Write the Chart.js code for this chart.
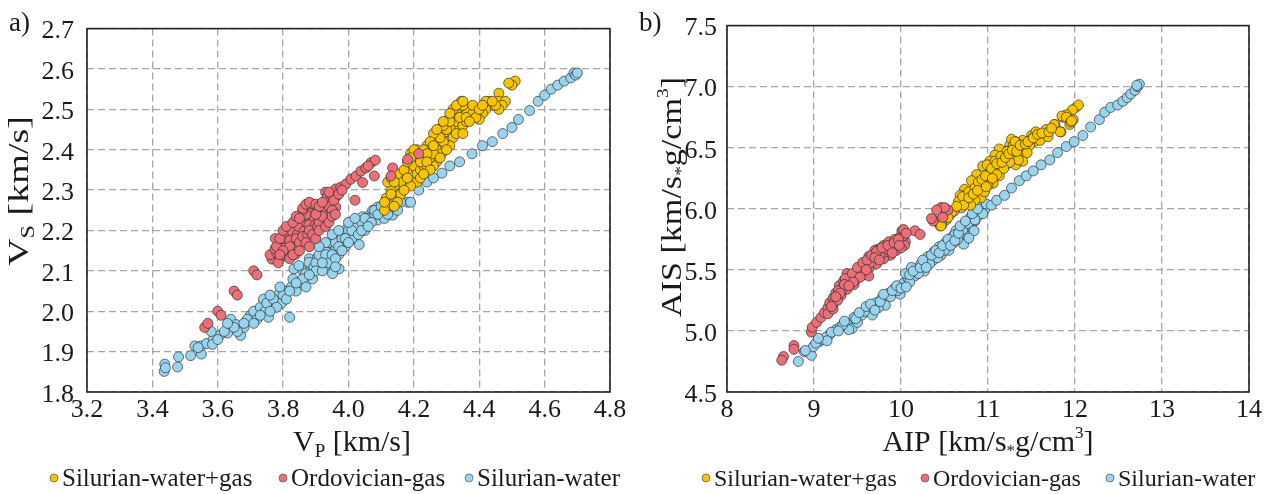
<!DOCTYPE html>
<html><head><meta charset="utf-8">
<script src="https://cdn.jsdelivr.net/npm/chart.js@4.4.0/dist/chart.umd.min.js"></script>
<style>
html,body{margin:0;padding:0;background:#fff;}
#wrap{position:relative;width:1272px;height:494px;overflow:hidden;}
.box{position:absolute;top:0;width:636px;height:494px;}
canvas{display:block;}
</style></head><body>
<div id="wrap">
<div class="box" style="left:0"><canvas id="c1" width="636" height="494"></canvas></div>
<div class="box" style="left:636px"><canvas id="c2" width="636" height="494"></canvas></div>
</div>
<script>
// ---------- series names / colours ----------
const seriesNames = ['Silurian-water+gas', 'Ordovician-gas', 'Silurian-water'];
const seriesColors = ['#F6C400', '#EC6F78', '#99D4EF'];

// ---------- tick labels ----------
const vpTicks = [3.2, 3.4, 3.6, 3.8, 4.0, 4.2, 4.4, 4.6, 4.8];
const vsTicks = [1.8, 1.9, 2.0, 2.1, 2.2, 2.3, 2.4, 2.5, 2.6, 2.7];
const aipTicks = [8, 9, 10, 11, 12, 13, 14];
const aisTicks = [4.5, 5.0, 5.5, 6.0, 6.5, 7.0, 7.5];

// ---------- panel a) Vp [km/s] vs Vs [km/s] ----------
const vpvsWaterGas = [
[4.51,2.57],[4.50,2.56],[4.49,2.565],[4.46,2.54],[4.46,2.52],[4.48,2.52],[4.47,2.51],[4.46,2.50],[4.43,2.52],[4.44,2.51],
[4.42,2.50],[4.41,2.49],[4.40,2.475],[4.37,2.50],[4.36,2.495],[4.38,2.49],[4.345,2.52],[4.34,2.505],[4.35,2.51],[4.33,2.48],
[4.31,2.48],[4.30,2.47],[4.32,2.45],[4.34,2.45],[4.33,2.47],[4.35,2.46],[4.36,2.47],[4.29,2.44],[4.27,2.43],[4.28,2.45],
[4.30,2.45],[4.26,2.42],[4.24,2.41],[4.25,2.40],[4.28,2.41],[4.30,2.42],[4.32,2.43],[4.31,2.41],[4.29,2.42],[4.27,2.40],
[4.285,2.39],[4.27,2.37],[4.26,2.36],[4.23,2.38],[4.21,2.40],[4.20,2.38],[4.22,2.39],[4.19,2.36],[4.18,2.35],[4.20,2.36],
[4.21,2.34],[4.21,2.32],[4.22,2.35],[4.23,2.36],[4.24,2.36],[4.25,2.38],[4.26,2.39],[4.17,2.33],[4.16,2.32],[4.14,2.31],
[4.13,2.30],[4.16,2.29],[4.13,2.28],[4.12,2.265],[4.11,2.25],[4.115,2.28],[4.12,2.32],[4.13,2.33],[4.15,2.34],[4.17,2.35],
[4.18,2.37],[4.19,2.39],[4.20,2.40],[4.29,2.46],[4.31,2.47],[4.33,2.49],[4.32,2.50],[4.28,2.43],[4.26,2.44],[4.23,2.40],
[4.24,2.39],[4.22,2.37],[4.25,2.42],[4.34,2.48],[4.36,2.48],[4.39,2.48],[4.38,2.51],[4.42,2.52],[4.45,2.51],[4.44,2.52],
[4.11,2.27],[4.13,2.29],[4.14,2.32],[4.19,2.38],
[4.27,2.45],[4.29,2.47],[4.31,2.49],[4.33,2.51],[4.35,2.52],[4.26,2.41],[4.24,2.37],[4.22,2.33],[4.19,2.31],[4.17,2.30],
[4.15,2.27],[4.14,2.26],[4.30,2.40],[4.33,2.44],[4.35,2.44],[4.37,2.47],[4.40,2.50],[4.41,2.51],[4.28,2.38],[4.25,2.35],
[4.23,2.34],[4.18,2.33]
];
const vpvsOrdGas = [
[3.56,1.96],[3.57,1.97],[3.60,2.00],[3.61,1.99],[3.65,2.05],[3.66,2.04],[3.71,2.10],[3.72,2.09],
[3.766,2.129],[3.76,2.14],[3.78,2.145],[3.797,2.157],[3.787,2.173],[3.807,2.169],[3.817,2.153],[3.833,2.165],[3.812,2.19],[3.828,2.198],
[3.843,2.19],[3.848,2.21],[3.864,2.198],[3.869,2.222],[3.879,2.214],[3.858,2.234],[3.874,2.258],[3.884,2.246],[3.894,2.234],[3.889,2.266],
[3.904,2.25],[3.915,2.234],[3.92,2.258],[3.93,2.218],[3.935,2.23],[3.946,2.246],[3.951,2.266],[3.961,2.258],[3.93,2.295],[3.935,2.283],
[3.946,2.288],[3.961,2.283],[3.961,2.303],[3.976,2.307],[3.992,2.315],[4.007,2.327],[4.023,2.335],[4.038,2.347],[4.053,2.355],[4.069,2.368],
[4.082,2.374],[4.043,2.319],[4.079,2.335],[4.02,2.275],[4.135,2.355],[4.13,2.335],[4.181,2.376],[3.776,2.18],[3.838,2.141],[3.899,2.214],
[3.79,2.13],[3.80,2.14],[3.82,2.13],[3.785,2.12],[3.775,2.155],[3.80,2.18],[3.82,2.175],[3.84,2.18],[3.85,2.17],[3.86,2.185],
[3.875,2.19],[3.88,2.20],[3.89,2.19],[3.905,2.21],[3.91,2.22],[3.92,2.235],[3.94,2.26],[3.95,2.25],[3.955,2.275],[3.94,2.295],
[3.97,2.29],[3.98,2.30],[3.87,2.24],[3.86,2.25],[3.90,2.24],[4.06,2.36],[4.215,2.39],
[3.78,2.16],[3.79,2.18],[3.80,2.20],[3.81,2.21],[3.83,2.22],[3.84,2.235],[3.85,2.23],[3.86,2.255],[3.87,2.265],[3.88,2.27],
[3.90,2.265],[3.91,2.26],[3.92,2.27],[3.82,2.16],[3.83,2.14],[3.85,2.15],[3.87,2.17],[3.88,2.16],[3.90,2.18],[3.91,2.20],
[3.93,2.21],[3.94,2.22],[3.95,2.235],[3.96,2.24],[3.80,2.15],[3.79,2.14]
];
const vpvsWater = [
[3.436,1.851],[3.438,1.869],[3.44,1.86],[3.477,1.862],[3.48,1.887],[3.517,1.89],[3.53,1.914],[3.55,1.894],[3.548,1.914],[3.566,1.92],
[3.586,1.93],[3.584,1.918],[3.606,1.94],[3.63,1.946],[3.64,1.98],[3.656,1.967],[3.67,1.94],[3.68,1.96],[3.70,1.99],[3.71,2.00],
[3.72,1.98],[3.73,2.01],[3.74,2.03],[3.745,2.00],[3.755,1.985],[3.765,2.025],[3.785,2.04],[3.795,2.02],[3.805,2.05],[3.82,1.985],
[3.825,2.06],[3.85,2.07],[3.86,2.10],[3.87,2.09],[3.88,2.13],[3.885,2.105],
[3.833,2.105],[3.848,2.113],[3.869,2.093],[3.879,2.121],[3.894,2.109],[3.905,2.133],[3.915,2.117],[3.92,2.145],[3.935,2.157],[3.946,2.129],
[3.951,2.165],[3.961,2.153],[3.966,2.181],[3.982,2.169],[3.987,2.19],[3.997,2.206],[4.007,2.19],[4.012,2.214],[4.028,2.226],[4.023,2.198],
[4.043,2.234],[4.053,2.218],[4.064,2.238],[4.074,2.25],[4.089,2.258],[4.089,2.226],[4.099,2.242],[4.115,2.25],[4.12,2.266],[4.135,2.238],
[4.14,2.258],[4.156,2.27],[4.181,2.27],[3.93,2.113],[3.971,2.105],[4.002,2.173],[4.033,2.165],[3.951,2.093],
[3.80,2.04],[3.81,2.03],[3.83,2.08],[3.84,2.05],[3.86,2.08],[3.90,2.12],[3.91,2.14],[3.93,2.14],[3.94,2.17],[3.96,2.17],
[3.98,2.18],[4.00,2.20],[4.01,2.18],[4.02,2.21],[4.04,2.22],[4.05,2.20],[4.06,2.23],[4.08,2.24],[4.10,2.25],[4.11,2.23],
[3.99,2.16],[3.97,2.14],[3.75,2.02],[3.77,2.03],[3.78,2.01],[3.69,1.98],[3.71,1.97],[3.66,1.95],[3.62,1.95],[3.60,1.93],
[3.58,1.95],[3.54,1.91],
[3.87,2.06],[3.89,2.08],[3.90,2.10],[3.92,2.10],[3.94,2.12],[3.95,2.14],[3.96,2.13],[3.97,2.16],[3.98,2.15],[3.99,2.18],
[4.00,2.17],[4.01,2.20],[4.03,2.19],[4.04,2.20],[4.05,2.23],[4.07,2.22],[4.08,2.25],[4.09,2.24],[4.10,2.26],[4.12,2.24],
[4.13,2.27],[3.95,2.19],[3.93,2.17],[3.91,2.16],[3.97,2.20],[4.00,2.22],[4.02,2.23],[3.82,2.05],[3.84,2.07],[3.79,2.06],
[3.76,2.04],[3.73,1.99],[3.68,1.97],[3.65,1.96],[3.63,1.97],[3.76,2.00],[3.88,2.09],[3.96,2.11],[4.06,2.21],[3.92,2.12],
[4.16,2.27],[4.15,2.25],[4.19,2.27],[4.215,2.30],[4.24,2.32],[4.26,2.33],[4.286,2.342],[4.31,2.36],[4.34,2.37],[4.378,2.39],
[4.41,2.41],[4.44,2.42],[4.472,2.44],[4.50,2.455],[4.52,2.475],[4.554,2.497],[4.58,2.52],[4.60,2.535],[4.62,2.55],[4.64,2.56],
[4.66,2.57],[4.68,2.578],[4.69,2.59],[4.695,2.585],[4.70,2.59]
];

// ---------- panel b) AIP vs AIS [km/s*g/cm3] ----------
const aipaisWaterGas = [
[12.01,6.83],[12.04,6.85],[11.97,6.81],[11.90,6.77],[11.86,6.75],[11.98,6.73],[11.94,6.69],[11.84,6.63],[11.77,6.69],[11.67,6.65],
[11.65,6.60],[11.59,6.57],[11.53,6.55],[11.48,6.52],[11.42,6.48],[11.36,6.45],[11.31,6.43],[11.25,6.52],[11.21,6.47],[11.15,6.41],
[11.11,6.35],[11.21,6.36],[11.32,6.36],[11.40,6.39],[11.08,6.31],[11.02,6.28],[10.98,6.24],[10.94,6.20],[10.90,6.17],[11.06,6.21],
[11.13,6.27],[10.87,6.13],[10.81,6.11],[10.75,6.09],[10.71,6.07],[10.68,6.04],[10.62,5.99],[10.56,5.95],[10.52,5.91],[10.47,5.87],
[10.92,6.09],[10.85,6.07],[11.50,6.60],[11.40,6.56],[11.32,6.55],[11.27,6.57],[11.55,6.63],[11.13,6.49],[11.08,6.44],[11.02,6.39],
[10.94,6.35],[10.87,6.28],[10.81,6.23],[10.73,6.16],[10.68,6.11],[10.77,6.05],[10.45,5.86],[10.49,5.92],[10.61,5.98],[10.66,6.06],
[10.71,6.10],[10.78,6.14],[10.85,6.17],[10.89,6.22],[11.03,6.30],[10.99,6.36],[11.08,6.39],[11.15,6.43],[11.22,6.47],[11.29,6.52],
[11.31,6.55],[11.38,6.49],[11.50,6.57],[11.60,6.56],[11.69,6.59],[11.76,6.69],[11.85,6.76],[11.83,6.63],[11.90,6.75],[11.95,6.71],
[11.96,6.72],[11.45,6.46],[11.35,6.40],[11.25,6.38],[11.18,6.33],[10.96,6.14],[11.00,6.19],[10.80,6.03],[10.70,6.01],[10.58,5.97],
[10.40,5.90],[10.46,5.86],
[10.72,6.03],[10.78,6.09],[10.83,6.12],[10.88,6.15],[10.93,6.24],[10.97,6.27],[11.04,6.33],[11.10,6.37],[11.16,6.38],[11.20,6.42],
[11.24,6.45],[11.28,6.48],[11.33,6.47],[11.37,6.52],[11.43,6.53],[11.46,6.55],[11.52,6.58],[11.57,6.61],[11.62,6.62],[11.70,6.63],
[11.73,6.66],[11.10,6.28],[11.05,6.25],[10.98,6.18],[10.64,6.02],[10.54,5.93]
];
const aipaisOrdGas = [
[8.65,4.79],[8.63,4.76],[8.77,4.88],[8.77,4.85],[8.97,4.99],[8.98,5.03],[9.03,5.07],[9.08,5.11],[9.12,5.15],[9.16,5.19],
[9.18,5.23],[9.22,5.27],[9.25,5.31],[9.29,5.37],[9.34,5.41],[9.38,5.47],[9.42,5.42],[9.46,5.38],[9.50,5.45],[9.54,5.53],
[9.59,5.55],[9.63,5.61],[9.69,5.63],[9.74,5.67],[9.80,5.70],[9.86,5.73],[9.93,5.75],[10.01,5.82],[9.99,5.77],[10.05,5.73],
[9.95,5.66],[9.88,5.62],[9.80,5.59],[9.72,5.55],[9.63,5.51],[9.57,5.46],[9.48,5.42],[9.38,5.34],[9.31,5.29],[9.23,5.23],
[9.16,5.14],[9.22,5.18],[9.40,5.40],[9.52,5.50],[9.70,5.66],[9.82,5.65],[9.63,5.45],[10.16,5.82],[10.22,5.79],[10.37,5.90],
[10.46,6.01],[10.54,5.99],[10.48,5.93],[10.50,6.01],[10.41,5.99],[10.35,5.92],[9.90,5.70],[9.96,5.72],[10.03,5.78],[10.04,5.70],
[9.76,5.62],[9.67,5.58],[9.58,5.52],[9.45,5.45],[9.33,5.35],[9.27,5.25],[9.20,5.20],[9.28,5.33],[9.36,5.43],[9.55,5.48],
[9.65,5.56],[9.84,5.67],[10.00,5.68],[10.03,5.83],
[9.35,5.38],[9.44,5.47],[9.50,5.52],[9.56,5.56],[9.61,5.58],[9.66,5.62],[9.72,5.65],[9.78,5.68],[9.85,5.70],[9.92,5.72],
[9.97,5.75],[9.60,5.50],[9.53,5.44],[9.45,5.40],[9.40,5.37],[9.30,5.31],[9.25,5.28],[9.70,5.60],[9.75,5.58],[9.90,5.64],
[9.98,5.70],[10.06,5.80]
];
const aipaisWater = [
[8.82,4.75],[8.89,4.83],[8.97,4.80],[8.99,4.87],[9.06,4.91],[9.10,4.93],[9.18,4.97],[9.25,5.01],[9.38,5.06],[9.44,5.02],
[9.46,5.11],[9.50,5.07],[9.55,5.13],[9.63,5.18],[9.67,5.13],[9.71,5.23],[9.78,5.27],[9.82,5.21],[9.86,5.31],[9.93,5.35],
[9.99,5.30],[10.03,5.39],[10.08,5.43],[10.05,5.47],[10.16,5.45],[10.18,5.51],[10.23,5.55],[10.27,5.49],[10.31,5.61],[10.37,5.58],
[10.38,5.65],[10.44,5.69],[10.46,5.62],[10.52,5.73],[10.55,5.66],[10.59,5.77],[10.63,5.82],[10.69,5.79],[10.72,5.87],[10.72,5.71],
[10.12,5.52],[9.74,5.19],[9.40,5.01],[9.30,5.03],[9.14,4.95],[9.02,4.90],[8.90,4.84],[9.20,4.99],[9.33,5.05],[9.58,5.16],
[9.88,5.28],[9.96,5.33],[10.10,5.40],[10.20,5.47],[10.33,5.55],[10.42,5.60],[10.50,5.66],[10.60,5.72],[10.65,5.75],[10.76,5.80],
[10.80,5.85],[10.85,5.90],[10.90,5.95],[10.96,5.99],[10.92,6.04],[10.94,5.96],[10.80,5.93],[10.75,5.86],[10.62,5.79],[10.71,5.83],
[10.77,5.88],[10.85,5.91],
[9.35,5.08],[9.48,5.10],[9.52,5.15],[9.60,5.20],[9.65,5.22],[9.70,5.17],[9.76,5.24],[9.80,5.30],[9.90,5.33],[9.95,5.37],
[10.00,5.35],[10.06,5.36],[10.10,5.46],[10.14,5.49],[10.22,5.52],[10.25,5.58],[10.29,5.52],[10.35,5.62],[10.40,5.66],[10.44,5.64],
[10.48,5.70],[10.54,5.75],[10.57,5.70],[10.62,5.74],[10.66,5.80],[10.68,5.86],[10.74,5.90],[10.82,5.96],[10.88,6.00],[10.98,6.04],
[10.84,5.82],[10.78,5.76],[9.15,4.92],[9.05,4.94],[9.28,5.00],
[11.04,6.03],[11.10,6.07],[11.19,6.11],[11.27,6.17],[11.36,6.23],[11.44,6.27],[11.52,6.31],[11.61,6.36],
[11.71,6.40],[11.80,6.46],[11.90,6.51],[11.99,6.55],[12.09,6.60],[12.18,6.67],[12.28,6.73],[12.34,6.79],[12.41,6.83],[12.49,6.85],
[12.55,6.88],[12.60,6.91],[12.64,6.94],[12.69,6.97],[12.72,7.00],[12.74,7.02],[12.71,7.01]
];

// ---------- helpers ----------
const FONT = '"Liberation Serif", "DejaVu Serif", serif';
const toPts = a => a.map(p => ({x: p[0], y: p[1]}));

function partsWidth(ctx, parts) {
  let w = 0;
  for (const p of parts) { ctx.font = p.size + 'px ' + FONT; w += ctx.measureText(p.t).width; }
  return w;
}
function drawParts(ctx, parts, x, y) {
  let cx = x;
  for (const p of parts) {
    ctx.font = p.size + 'px ' + FONT;
    ctx.fillText(p.t, cx, y + (p.dy || 0));
    cx += ctx.measureText(p.t).width;
  }
}

const decoPlugin = {
  id: 'deco',
  afterDraw(chart, args, o) {
    const ctx = chart.ctx, a = chart.chartArea;
    ctx.save();
    ctx.strokeStyle = '#222'; ctx.lineWidth = 1.6; ctx.setLineDash([]);
    ctx.strokeRect(a.left, a.top, a.right - a.left, a.bottom - a.top);
    ctx.fillStyle = '#1a1a1a';
    ctx.textAlign = 'left'; ctx.textBaseline = 'alphabetic';
    ctx.font = '27px ' + FONT;
    ctx.fillText(o.panel, o.panelX, 31);
    const xw = partsWidth(ctx, o.xTitle);
    drawParts(ctx, o.xTitle, o.xTitleCx - xw / 2, 451);
    const yw = partsWidth(ctx, o.yTitle);
    ctx.save();
    ctx.translate(o.yTitleBase, o.yTitleCy);
    ctx.rotate(-Math.PI / 2);
    ctx.scale(o.yTitleLen / yw, 1);
    drawParts(ctx, o.yTitle, -yw / 2, 0);
    ctx.restore();
    ctx.font = o.legendSize + 'px ' + FONT;
    for (let i = 0; i < seriesNames.length; i++) {
      const dx = o.legendDots[i];
      ctx.beginPath();
      ctx.arc(dx, 478, 4, 0, Math.PI * 2);
      ctx.fillStyle = seriesColors[i];
      ctx.fill();
      ctx.lineWidth = 0.7; ctx.strokeStyle = '#555';
      ctx.stroke();
      ctx.fillStyle = '#1a1a1a';
      ctx.fillText(seriesNames[i], dx + 8, 486);
    }
    ctx.restore();
  }
};

function makeChart(id, data3, xt, yt, area, fmtX, fmtY, deco, yPad) {
  const order = [1, 0, 2]; // red on top, then yellow, then blue
  const datasets = data3.map((d, i) => ({
    label: seriesNames[i],
    data: toPts(d),
    backgroundColor: seriesColors[i],
    borderColor: 'rgba(45,45,45,0.85)',
    pointBorderWidth: 0.8,
    pointRadius: 5,
    pointHoverRadius: 5,
    showLine: false,
    order: order[i]
  }));
  const grid = {color: '#a6a6a6', lineWidth: 1.3, drawTicks: false};
  const border = {display: false, dash: [7, 4]};
  const tickFont = {family: FONT, size: 26};
  return new Chart(document.getElementById(id), {
    type: 'scatter',
    data: {datasets},
    options: {
      responsive: false,
      animation: false,
      events: [],
      layout: {padding: {left: 0, top: area.top, right: 636 - area.right, bottom: 0}},
      plugins: {legend: {display: false}, tooltip: {enabled: false}, deco},
      scales: {
        x: {
          type: 'linear', min: xt[0], max: xt[xt.length - 1],
          afterBuildTicks: s => { s.ticks = xt.map(v => ({value: v})); },
          afterFit: s => { s.height = 494 - area.bottom; },
          grid, border,
          ticks: {font: tickFont, color: '#1a1a1a', padding: 3, maxRotation: 0, autoSkip: false, callback: fmtX}
        },
        y: {
          type: 'linear', min: yt[0], max: yt[yt.length - 1],
          afterBuildTicks: s => { s.ticks = yt.map(v => ({value: v})); },
          afterFit: s => { s.width = area.left; },
          grid, border,
          ticks: {font: tickFont, color: '#1a1a1a', padding: yPad, labelOffset: 3, autoSkip: false, callback: fmtY}
        }
      }
    },
    plugins: [decoPlugin]
  });
}

makeChart('c1', [vpvsWaterGas, vpvsOrdGas, vpvsWater], vpTicks, vsTicks,
  {left: 87, right: 610, top: 18, bottom: 392},
  v => Number(v).toFixed(1), v => Number(v).toFixed(1),
  {panel: 'a)', panelX: 9,
   xTitle: [{t: 'V', size: 30}, {t: 'P', size: 19, dy: 6}, {t: ' [km/s]', size: 30}], xTitleCx: 352,
   yTitle: [{t: 'V', size: 30}, {t: 'S', size: 19, dy: 6}, {t: ' [km/s]', size: 30}], yTitleBase: 28, yTitleCy: 191, yTitleLen: 150,
   legendDots: [54, 283, 469], legendSize: 25}, 13);

makeChart('c2', [aipaisWaterGas, aipaisOrdGas, aipaisWater], aipTicks, aisTicks,
  {left: 91, right: 613, top: 18, bottom: 392},
  v => String(Math.round(v)), v => Number(v).toFixed(1),
  {panel: 'b)', panelX: 3,
   xTitle: [{t: 'AIP [km/s', size: 30}, {t: '*', size: 17, dy: 5}, {t: 'g/cm', size: 30}, {t: '3', size: 17, dy: -13}, {t: ']', size: 30}], xTitleCx: 352,
   yTitle: [{t: 'AIS [km/s', size: 30}, {t: '*', size: 17, dy: 5}, {t: 'g/cm', size: 30}, {t: '3', size: 17, dy: -13}, {t: ']', size: 30}], yTitleBase: 45, yTitleCy: 197, yTitleLen: 240,
   legendDots: [70, 289, 474], legendSize: 24}, 10);
</script>
</body></html>
